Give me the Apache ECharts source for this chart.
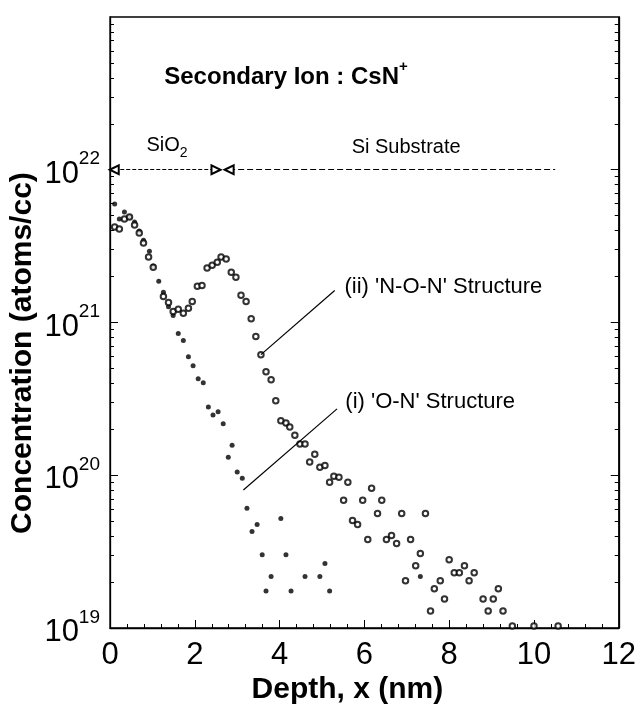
<!DOCTYPE html>
<html>
<head>
<meta charset="utf-8">
<script src="https://cdn.jsdelivr.net/npm/echarts@6/dist/echarts.min.js"></script>
<style>
  html, body { margin: 0; padding: 0; background: #fff; }
  #chart { width: 639px; height: 709px; }
</style>
</head>
<body>
<div id="chart"></div>
<script>
// SIMS depth profiles of nitrogen (secondary ion CsN+) in two gate-dielectric stacks.

// Axis ticks
const depthTicks = [0, 2, 4, 6, 8, 10, 12];
const concExponents = [19, 20, 21, 22, 23];

// (i) 'O-N' structure — filled markers
const onDepth = [0.11, 0.22, 0.34, 0.46, 0.58, 0.69, 0.79, 0.93, 1.02, 1.15, 1.26, 1.38, 1.49, 1.61,
  1.73, 1.85, 1.96, 2.08, 2.20, 2.32, 2.43, 2.55, 2.67, 2.79, 2.88, 3.00, 3.12, 3.23, 3.35, 3.47,
  3.59, 3.68, 3.80, 4.03, 4.15, 4.27, 4.60, 4.95, 5.07, 5.18, 7.32];
const onConc = [5.97e21, 4.76e21, 5.29e21, 4.91e21, 4.55e21, 3.97e21, 3.46e21, 2.93e21, 2.34e21,
  1.86e21, 1.58e21, 1.27e21, 1.11e21, 8.47e20, 7.62e20, 5.97e20, 5.21e20, 4.28e20, 4.03e20, 2.80e20,
  2.48e20, 2.60e20, 2.17e20, 1.31e20, 1.57e20, 1.05e20, 9.55e19, 6.07e19, 4.28e19, 4.76e19, 3.02e19,
  1.75e19, 2.17e19, 5.21e19, 3.02e19, 1.75e19, 2.17e19, 2.17e19, 2.64e19, 1.75e19, 2.17e19];

// (ii) 'N-O-N' structure — open markers
const nonDepth = [0.11, 0.22, 0.34, 0.46, 0.58, 0.69, 0.79, 0.91, 1.02, 1.26, 1.38, 1.49, 1.61, 1.73,
  1.85, 1.94, 2.06, 2.17, 2.29, 2.41, 2.53, 2.62, 2.74, 2.86, 2.97, 3.09, 3.21, 3.33, 3.44, 3.56,
  3.68, 3.80, 3.91, 4.03, 4.15, 4.24, 4.36, 4.48, 4.60, 4.71, 4.83, 4.95, 5.07, 5.18, 5.28, 5.40,
  5.51, 5.61, 5.72, 5.84, 5.96, 6.08, 6.17, 6.31, 6.41, 6.52, 6.64, 6.76, 6.88, 6.97, 7.09, 7.21,
  7.32, 7.44, 7.56, 7.65, 7.79, 7.89, 8.00, 8.12, 8.24, 8.36, 8.47, 8.59, 8.80, 8.92, 9.04, 9.16,
  9.27, 9.49, 10.00, 10.57];
const nonConc = [4.22e21, 4.09e21, 4.76e21, 4.91e21, 4.35e21, 3.85e21, 3.31e21, 2.68e21, 2.30e21,
  1.48e21, 1.35e21, 1.18e21, 1.22e21, 1.15e21, 1.24e21, 1.37e21, 1.73e21, 1.75e21, 2.27e21, 2.37e21,
  2.48e21, 2.68e21, 2.60e21, 2.13e21, 1.98e21, 1.51e21, 1.37e21, 1.06e21, 8.09e20, 6.16e20, 4.76e20,
  4.22e20, 3.07e20, 2.27e20, 2.20e20, 2.07e20, 1.83e20, 1.60e20, 1.60e20, 1.22e20, 1.37e20, 1.13e20,
  1.16e20, 9.0e19, 9.85e19, 9.7e19, 6.85e19, 9.0e19, 5.06e19, 4.76e19, 6.85e19, 3.79e19, 8.21e19,
  5.62e19, 6.85e19, 3.79e19, 4.03e19, 3.57e19, 5.62e19, 2.04e19, 3.79e19, 2.56e19, 3.07e19, 5.62e19,
  1.29e19, 1.81e19, 2.04e19, 1.55e19, 2.80e19, 2.30e19, 2.30e19, 2.56e19, 2.04e19, 2.30e19, 1.55e19,
  1.29e19, 1.55e19, 1.81e19, 1.29e19, 1.03e19, 1.03e19, 1.03e19];

// Layer extents shown by the arrows at 1e22 (nm)
const oxideSpan = [0.1, 2.5];
const substrateSpan = [2.81, 10.5];
const arrowLevel = 1e22;

// Leader lines: from a profile point to its label
const nonLeaderFrom = 29;               // index into the N-O-N profile
const nonLeaderTo = [5.30, 1.62e21];
const onLeaderFrom = [3.146, 8.0e19];
const onLeaderTo = [5.355, 2.72e20];

const SANS = "'Liberation Sans', Arial, sans-serif";
const INK = '#000';

const zip = (xs, ys) => xs.map((x, i) => [x, ys[i]]);

const majorConc = concExponents.map(e => Math.pow(10, e));
const minorConc = [];
for (let e = concExponents[0]; e < concExponents[concExponents.length - 1]; e++) {
  for (let m = 2; m <= 9; m++) minorConc.push(m * Math.pow(10, e));
}

const concLabel = v => '{b|10}{s|' + Math.round(Math.log10(v)) + '}';

function logAxis(position, major, withLabels) {
  return {
    type: 'log',
    logBase: 10,
    min: majorConc[0],
    max: majorConc[majorConc.length - 1],
    position: position,
    axisLine: { show: major, lineStyle: { color: INK, width: 1.3 } },
    axisTick: {
      show: true, inside: true, length: major ? 8 : 4,
      customValues: major ? majorConc : minorConc,
      lineStyle: { color: INK, width: 1 }
    },
    axisLabel: withLabels ? {
      show: true,
      customValues: majorConc,
      formatter: concLabel,
      margin: 10,
      rich: {
        b: { fontSize: 31, fontFamily: SANS, color: INK, lineHeight: 40, verticalAlign: 'bottom' },
        s: { fontSize: 19, fontFamily: SANS, color: INK, lineHeight: 20, verticalAlign: 'top' }
      }
    } : { show: false },
    splitLine: { show: false }
  };
}

const chart = echarts.init(document.getElementById('chart'), null, { renderer: 'canvas' });

chart.setOption({
  animation: false,
  backgroundColor: '#fff',
  grid: { left: 110, right: 18, top: 17, bottom: 81, show: true, borderColor: INK, borderWidth: 1.3, containLabel: false },
  xAxis: [{
    type: 'value',
    min: depthTicks[0],
    max: depthTicks[depthTicks.length - 1],
    interval: depthTicks[1] - depthTicks[0],
    axisLine: { show: true, lineStyle: { color: INK, width: 1.3 } },
    axisTick: { show: true, inside: true, length: 8, lineStyle: { color: INK, width: 1 } },
    minorTick: { show: true, splitNumber: 5, length: 4, lineStyle: { color: INK, width: 1 } },
    axisLabel: {
      show: true, fontSize: 31, fontFamily: SANS, color: INK, margin: 12,
      showMinLabel: true, showMaxLabel: true,
      formatter: v => String(v)
    },
    splitLine: { show: false }
  }],
  yAxis: [
    logAxis('left', true, true),
    logAxis('left', false, false),
    logAxis('right', true, false),
    logAxis('right', false, false)
  ],
  series: [
    {
      name: "(i) 'O-N' Structure",
      type: 'scatter',
      data: zip(onDepth, onConc),
      symbol: 'circle',
      symbolSize: 5,
      itemStyle: { color: INK },
      silent: true,
      markLine: {
        silent: true,
        animation: false,
        symbolSize: 9,
        label: { show: false },
        lineStyle: { color: INK, width: 1.2, type: 'solid' },
        data: [
          [
            { coord: [oxideSpan[0], arrowLevel], symbol: 'emptyTriangle', lineStyle: { type: [4, 2], width: 1 } },
            { coord: [oxideSpan[1], arrowLevel], symbol: 'emptyTriangle' }
          ],
          [
            { coord: [substrateSpan[0], arrowLevel], symbol: 'emptyTriangle', lineStyle: { type: [6, 3], width: 1 } },
            { coord: [substrateSpan[1], arrowLevel], symbol: 'none' }
          ],
          [
            { coord: [nonDepth[nonLeaderFrom], nonConc[nonLeaderFrom]], symbol: 'none' },
            { coord: nonLeaderTo, symbol: 'none' }
          ],
          [
            { coord: onLeaderFrom, symbol: 'none' },
            { coord: onLeaderTo, symbol: 'none' }
          ]
        ]
      }
    },
    {
      name: "(ii) 'N-O-N' Structure",
      type: 'scatter',
      data: zip(nonDepth, nonConc),
      symbol: 'emptyCircle',
      symbolSize: 5.5,
      itemStyle: { color: INK, borderColor: INK, borderWidth: 1.1 },
      silent: true
    }
  ]
});

// Text annotations anchored in data coordinates
const notes = [
  { at: [1.28, 4.2e22], text: '{b|Secondary Ion : CsN}{s|+}',
    rich: { b: { fontSize: 24, fontWeight: 'bold', fontFamily: SANS, lineHeight: 30, verticalAlign: 'bottom' },
            s: { fontSize: 15, fontWeight: 'bold', fontFamily: SANS, lineHeight: 16, verticalAlign: 'top' } } },
  { at: [0.86, 1.39e22], text: '{a|SiO}{d|2}',
    rich: { a: { fontSize: 20, fontFamily: SANS, lineHeight: 24, verticalAlign: 'top' },
            d: { fontSize: 14, fontFamily: SANS, lineHeight: 16, verticalAlign: 'bottom' } } },
  { at: [5.70, 1.39e22], text: '{a|Si Substrate}',
    rich: { a: { fontSize: 20, fontFamily: SANS, lineHeight: 24 } } },
  { at: [5.53, 1.70e21], text: "{a|(ii) 'N-O-N' Structure}",
    rich: { a: { fontSize: 22, fontFamily: SANS, lineHeight: 26 } } },
  { at: [5.55, 3.02e20], text: "{a|(i) 'O-N' Structure}",
    rich: { a: { fontSize: 22, fontFamily: SANS, lineHeight: 26 } } }
];

const toPx = p => chart.convertToPixel({ gridIndex: 0 }, p);

const graphics = notes.map(n => {
  const p = toPx(n.at);
  return {
    type: 'text', x: p[0], y: p[1], silent: true,
    style: { text: n.text, rich: n.rich, fill: INK, align: 'left', verticalAlign: 'middle' }
  };
});

// Axis titles
graphics.push({
  type: 'text', silent: true,
  x: toPx([5.6, 1e19])[0], y: 690,
  style: { text: 'Depth, x (nm)', fill: INK, fontSize: 30, fontWeight: 'bold', fontFamily: SANS,
           align: 'center', verticalAlign: 'middle' }
});
graphics.push({
  type: 'text', silent: true,
  x: 23, y: toPx([0, Math.pow(10, 20.8)])[1], rotation: Math.PI / 2,
  style: { text: 'Concentration (atoms/cc)', fill: INK, fontSize: 30, fontWeight: 'bold', fontFamily: SANS,
           align: 'center', verticalAlign: 'middle' }
});

chart.setOption({ graphic: graphics });
</script>
</body>
</html>
